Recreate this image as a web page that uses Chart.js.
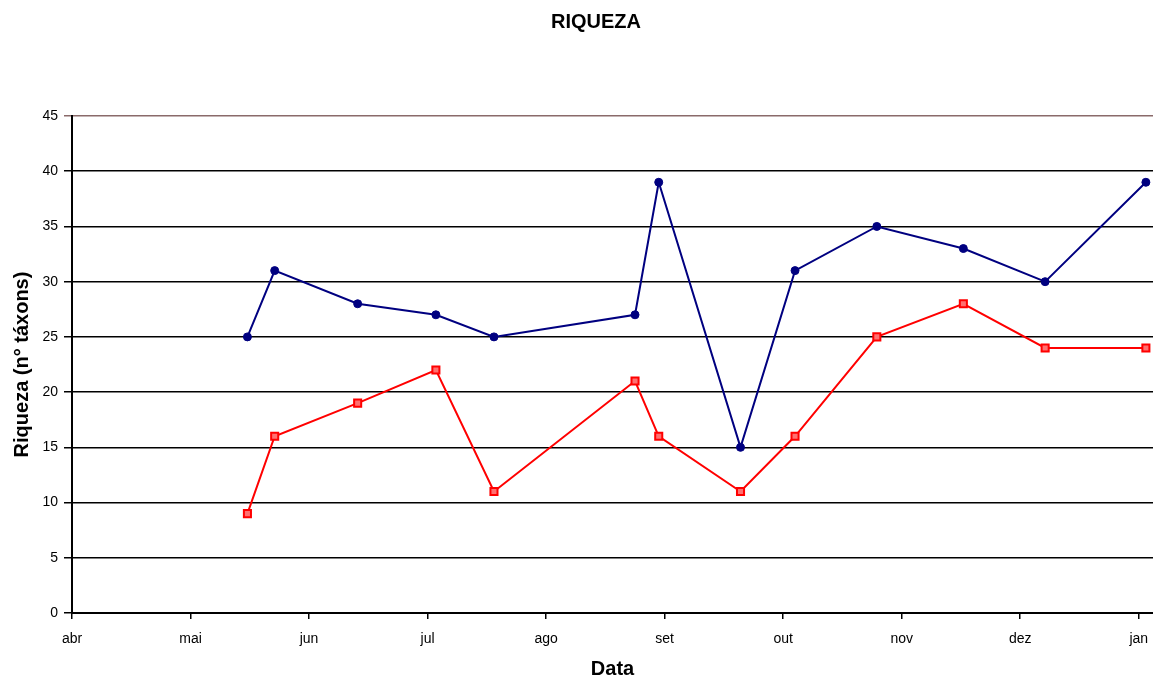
<!DOCTYPE html>
<html>
<head>
<meta charset="utf-8">
<script src="https://cdn.jsdelivr.net/npm/chart.js@4/dist/chart.umd.min.js"></script>
<style>
  html, body { margin: 0; padding: 0; background: #fff; }
  #wrap { width: 1153px; height: 679px; position: relative; }
</style>
</head>
<body>
<div id="wrap"><canvas id="myChart"></canvas></div>
<script>
// month tick labels (0 = abr ... 9 = jan)
const months = ['abr','mai','jun','jul','ago','set','out','nov','dez','jan'];
// sampling dates, in months since 1 abr
const sampleMonth = [1.48, 1.71, 2.41, 3.07, 3.56, 4.75, 4.95, 5.64, 6.10, 6.79, 7.52, 8.21, 9.06];
const riquezaAzul = [25, 31, 28, 27, 25, 27, 39, 15, 31, 35, 33, 30, 39];
const riquezaVermelho = [9, 16, 19, 22, 11, 21, 16, 11, 16, 25, 28, 24, 24];
const yTicks = [0, 5, 10, 15, 20, 25, 30, 35, 40, 45];

const FONT = "Arial, 'Liberation Sans', sans-serif";

function pts(ys) {
  return sampleMonth.map((x, i) => ({ x: x, y: ys[i] }));
}

const titlePlugin = {
  id: 'titlePlugin',
  afterDraw(chart) {
    const c = chart.ctx;
    c.save();
    c.font = 'bold 20px ' + FONT;
    c.fillStyle = '#000';
    c.textAlign = 'center';
    c.textBaseline = 'middle';
    c.fillText('RIQUEZA', 596, 22);
    c.restore();
  }
};

const ctx = document.getElementById('myChart').getContext('2d');
const myChart = new Chart(ctx, {
  type: 'line',
  data: {
    datasets: [
      {
        label: 'Riqueza 1',
        data: pts(riquezaAzul),
        borderColor: '#000080',
        backgroundColor: '#000080',
        borderWidth: 2,
        pointStyle: 'circle',
        pointRadius: 4,
        pointBorderWidth: 1,
        tension: 0
      },
      {
        label: 'Riqueza 2',
        data: pts(riquezaVermelho),
        borderColor: '#ff0000',
        backgroundColor: '#ff7070',
        borderWidth: 2,
        pointStyle: 'rect',
        pointRadius: 5,
        pointBorderWidth: 2,
        tension: 0
      }
    ]
  },
  options: {
    responsive: true,
    maintainAspectRatio: false,
    animation: false,
    layout: { autoPadding: false, padding: { top: 116, right: 0, left: 0, bottom: 0 } },
    plugins: {
      legend: { display: false },
      title: { display: false },
      tooltip: { enabled: false }
    },
    scales: {
      x: {
        type: 'linear',
        min: 0,
        max: 9.12,
        afterBuildTicks: s => { s.ticks = months.map((m, i) => ({ value: i })); },
        afterFit: s => { s.height = 66; s.paddingLeft = 0; s.paddingRight = 0; },
        grid: {
          drawOnChartArea: false,
          drawTicks: true,
          tickLength: 6,
          color: '#000',
          lineWidth: 1.5
        },
        border: { color: '#000', width: 2 },
        ticks: {
          autoSkip: false,
          maxRotation: 0,
          padding: 12,
          color: '#000',
          font: { family: FONT, size: 14 },
          callback: v => months[v]
        },
        title: {
          display: true,
          text: 'Data',
          color: '#000',
          font: { family: FONT, size: 20, weight: 'bold', lineHeight: 1 },
          padding: { top: 0, bottom: 0 }
        }
      },
      y: {
        min: 0,
        max: 45,
        afterBuildTicks: s => { s.ticks = yTicks.map(v => ({ value: v })); },
        afterFit: s => { s.width = 72; },
        grid: {
          drawTicks: true,
          tickLength: 8,
          lineWidth: 1.5,
          color: c => (c.tick && c.tick.value === 45) ? '#8a6a6a' : '#000'
        },
        border: { color: '#000', width: 2 },
        ticks: {
          padding: 6,
          color: '#000',
          font: { family: FONT, size: 14 }
        },
        title: {
          display: true,
          text: 'Riqueza (n° táxons)',
          color: '#000',
          font: { family: FONT, size: 20, weight: 'bold', lineHeight: 1 },
          padding: { top: 12, bottom: 0 }
        }
      }
    }
  },
  plugins: [titlePlugin]
});
</script>
</body>
</html>
